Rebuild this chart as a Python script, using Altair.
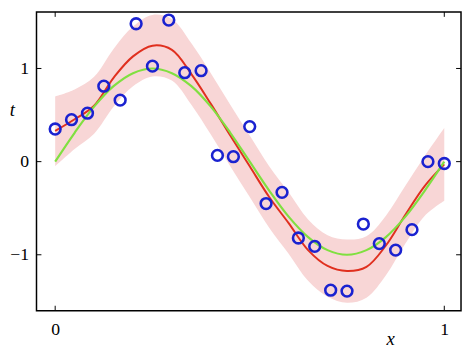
import altair as alt
import pandas as pd

# observed data points
obs_x = [0.0, 0.042, 0.083, 0.125, 0.167, 0.208, 0.25, 0.292, 0.333, 0.375, 0.417, 0.458,
         0.5, 0.542, 0.583, 0.625, 0.667, 0.708, 0.75, 0.792, 0.833, 0.875, 0.917, 0.958, 1.0]
obs_t = [0.35, 0.45, 0.52, 0.81, 0.66, 1.48, 1.025, 1.52, 0.955, 0.976, 0.067, 0.053,
         0.376, -0.45, -0.33, -0.82, -0.91, -1.38, -1.39, -0.67, -0.88, -0.95, -0.73, 0.0, -0.02]

# curves on a grid
grid_x = [0.0, 0.05, 0.1, 0.15, 0.2, 0.25, 0.3, 0.35, 0.4, 0.45, 0.5,
          0.55, 0.6, 0.65, 0.7, 0.75, 0.8, 0.85, 0.9, 0.95, 1.0]
mean_t = [0.33, 0.455, 0.60, 0.90, 1.13, 1.245, 1.20, 0.94, 0.62, 0.28, -0.05,
          -0.38, -0.66, -0.95, -1.12, -1.175, -1.13, -0.90, -0.57, -0.26, -0.03]
true_t = [0.0, 0.31, 0.59, 0.81, 0.95, 1.0, 0.95, 0.81, 0.59, 0.31, 0.0,
          -0.31, -0.59, -0.81, -0.95, -1.0, -0.95, -0.81, -0.59, -0.31, 0.0]
upper_t = [0.70, 0.775, 0.91, 1.21, 1.45, 1.575, 1.53, 1.27, 0.95, 0.61, 0.28,
           -0.05, -0.33, -0.62, -0.79, -0.835, -0.80, -0.58, -0.26, 0.06, 0.36]
lower_t = [-0.05, 0.135, 0.30, 0.59, 0.81, 0.915, 0.87, 0.61, 0.29, -0.05, -0.38,
           -0.71, -0.99, -1.28, -1.45, -1.515, -1.46, -1.22, -0.88, -0.58, -0.42]

x_ticks = [0, 1]
y_ticks = [-1, 0, 1]

pts = pd.DataFrame({"x": obs_x, "t": obs_t})
curves = pd.DataFrame({"x": grid_x, "mean": mean_t, "true": true_t,
                       "upper": upper_t, "lower": lower_t})
xt = pd.DataFrame({"v": x_ticks})
yt = pd.DataFrame({"v": y_ticks})

W, H = 432, 304
FONT = "Liberation Serif"
INTERP = "catmull-rom"

xscale = alt.Scale(domain=[-0.048, 1.043], nice=False, zero=False)
yscale = alt.Scale(domain=[-1.6, 1.607], nice=False, zero=False)

xaxis = alt.Axis(values=x_ticks, format="d", domain=False, ticks=False, tickSize=0, grid=False,
                 labelFont=FONT, labelFontSize=18, labelColor="black", labelPadding=10,
                 title="x", titleFont=FONT, titleFontStyle="italic", titleFontWeight="normal",
                 titleFontSize=19, titleColor="black", titleX=360, titleY=28,
                 titleBaseline="middle", titleAlign="center")
yaxis = alt.Axis(values=y_ticks, format="d", domain=False, ticks=False, tickSize=0, grid=False,
                 labelFont=FONT, labelFontSize=18, labelColor="black", labelPadding=8,
                 title="t", titleFont=FONT, titleFontStyle="italic", titleFontWeight="normal",
                 titleFontSize=19, titleColor="black", titleAngle=0, titleX=-25, titleY=99,
                 titleBaseline="middle", titleAlign="center")

band = alt.Chart(curves).mark_area(color="#f8d6d6", opacity=1, interpolate=INTERP).encode(
    x=alt.X("x:Q", scale=xscale, axis=xaxis),
    y=alt.Y("lower:Q", scale=yscale, axis=yaxis),
    y2="upper:Q",
)
red = alt.Chart(curves).mark_line(color="#e0301f", strokeWidth=2, interpolate=INTERP).encode(
    x=alt.X("x:Q", scale=xscale), y=alt.Y("mean:Q", scale=yscale))
green = alt.Chart(curves).mark_line(color="#80e040", strokeWidth=2.2, interpolate=INTERP).encode(
    x=alt.X("x:Q", scale=xscale), y=alt.Y("true:Q", scale=yscale))
points = alt.Chart(pts).mark_point(shape="circle", filled=False, color="#1a22d0",
                                   size=120, strokeWidth=2.6, opacity=1).encode(
    x=alt.X("x:Q", scale=xscale), y=alt.Y("t:Q", scale=yscale))

tb = alt.Chart(xt).mark_rule(color="black", strokeWidth=1).encode(
    x=alt.X("v:Q", scale=xscale), y=alt.value(H), y2=alt.value(H - 5))
tt = alt.Chart(xt).mark_rule(color="black", strokeWidth=1).encode(
    x=alt.X("v:Q", scale=xscale), y=alt.value(0), y2=alt.value(5))
tl = alt.Chart(yt).mark_rule(color="black", strokeWidth=1).encode(
    y=alt.Y("v:Q", scale=yscale), x=alt.value(0), x2=alt.value(5))
tr = alt.Chart(yt).mark_rule(color="black", strokeWidth=1).encode(
    y=alt.Y("v:Q", scale=yscale), x=alt.value(W), x2=alt.value(W - 5))

chart = alt.layer(band, red, green, points, tb, tt, tl, tr).properties(
    width=W, height=H, autosize="none", background="white",
    padding={"left": 29, "top": 1, "right": 1, "bottom": 36},
).configure_view(stroke="black", strokeWidth=1.5)

chart.save("out.html", embed_options={"renderer": "svg", "actions": False})
